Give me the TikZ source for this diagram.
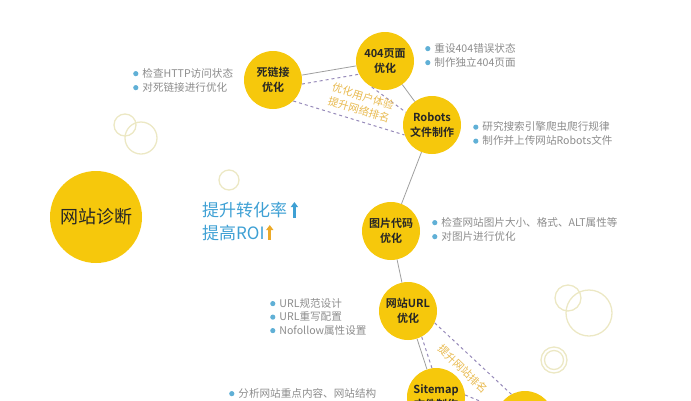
\documentclass[tikz,border=0pt]{standalone}
\usepackage{fontspec}
\setmainfont{Noto Sans CJK SC}[BoldFont={Noto Sans CJK SC Bold}]
\usetikzlibrary{arrows.meta}

\definecolor{sunny}{RGB}{246,200,12}
\definecolor{dotblue}{RGB}{96,176,214}
\definecolor{notegray}{RGB}{140,140,140}
\definecolor{rimgreen}{RGB}{236,232,196}
\definecolor{dashpurple}{RGB}{150,138,185}
\definecolor{goldtext}{RGB}{232,186,80}
\definecolor{liftblue}{RGB}{62,160,212}
\definecolor{liftorange}{RGB}{236,170,40}

\newcommand{\bdot}{\tikz[baseline=-3.4pt]\fill[dotblue] (0,0) circle (2.6pt);\hspace{4pt}}

\begin{document}
\begin{tikzpicture}[x=1pt,y=-1pt,
    stage/.style={circle,fill=sunny,minimum size=58pt,inner sep=0pt,align=center,
      font=\fontsize{11}{15}\selectfont\bfseries,text=black!85},
    link/.style={draw,gray!75,line width=.8pt},
    hint/.style={draw,dashpurple,dashed,line width=1pt,dash pattern=on 3pt off 3pt},
    notes/.style={anchor=west,align=left,text=notegray,inner sep=0pt,
      font=\fontsize{10.6}{14}\selectfont},
    rim/.style={draw,rimgreen,line width=1.3pt},
    lift/.style={-{Triangle[length=5pt,width=7pt]},line width=2.6pt}]
    \useasboundingbox (0,0) rectangle (691,400);
    \clip (0,0) rectangle (691,400);

    % pale rings
    \draw[rim] (125,125) circle (11);
    \draw[rim] (141,138) circle (16);
    \draw[rim] (229,180) circle (10);
    \draw[rim] (568,298) circle (13);
    \draw[rim] (589,313) circle (23);
    \draw[rim] (554,360) circle (13);
    \draw[rim] (554,360) circle (9.5);

    \node[circle,fill=sunny,minimum size=92pt,inner sep=0pt,
      font=\fontsize{18}{22}\selectfont,text=black!85] (audit) at (96,217) {网站诊断};

    \node[stage] (dead) at (273,80) {死链接\\优化};
    \node[stage] (p404) at (385,61) {404页面\\优化};
    \node[stage] (robots) at (432,125) {Robots\\文件制作};
    \node[stage] (image) at (391,231) {图片代码\\优化};
    \node[stage] (url) at (408,311) {网站URL\\优化};
    \node[stage] (sitemap) at (436,397) {Sitemap\\文件制作};
    \node[stage] (last) at (525,420) {};

    \path[link] (dead) -- (p404);
    \path[link] (p404) -- (robots);
    \path[link] (robots) -- (image);
    \path[link] (image) -- (url);
    \path[link] (url) -- (sitemap);

    \path[hint] (dead.-8) -- (p404.-153);
    \path[hint] (p404.-117) -- (robots.154);
    \path[hint] (dead.-46) -- (robots.-160);
    \path[hint] (url.-62) -- (sitemap.98);
    \path[hint] (url.-24) -- (last.118);
    \path[hint] (sitemap.4) -- (last.157);

    \node[rotate=-17,text=goldtext,align=center,font=\fontsize{10.6}{14}\selectfont]
      (uxnote) at (361,103) {优化用户体验\\提升网络排名};
    \node[rotate=-44,text=goldtext,font=\fontsize{10.6}{14}\selectfont]
      (ranknote) at (463,369) {提升网站排名};

    \node[notes] (deadnotes) at (133,80) {\bdot 检查HTTP访问状态\\\bdot 对死链接进行优化};
    \node[notes] (p404notes) at (425,55) {\bdot 重设404错误状态\\\bdot 制作独立404页面};
    \node[notes] (robotsnotes) at (473,133.5) {\bdot 研究搜索引擎爬虫爬行规律\\\bdot 制作并上传网站Robots文件};
    \node[notes] (imagenotes) at (432,229) {\bdot 检查网站图片大小、格式、ALT属性等\\\bdot 对图片进行优化};
    \node[notes,font=\fontsize{10.6}{13.5}\selectfont] (urlnotes) at (270,316.5)
      {\bdot URL规范设计\\\bdot URL重写配置\\\bdot Nofollow属性设置};
    \node[notes] (sitemapnotes) at (229,393) {\bdot 分析网站重点内容、网站结构};

    \node[anchor=west,text=liftblue,inner sep=0pt,font=\fontsize{17}{23}\selectfont]
      (conv) at (202,210) {提升转化率};
    \node[anchor=west,text=liftblue,inner sep=0pt,font=\fontsize{17}{23}\selectfont]
      (roi) at (202,233) {提高ROI};
    \coordinate (convfoot) at ([xshift=7pt,yshift=-8pt]conv.east);
    \coordinate (roifoot) at ([xshift=5pt,yshift=-7pt]roi.east);
    \draw[lift,liftblue] (convfoot) -- ([yshift=16pt]convfoot);
    \draw[lift,liftorange] (roifoot) -- ([yshift=15pt]roifoot);
  \end{tikzpicture}
\end{document}
